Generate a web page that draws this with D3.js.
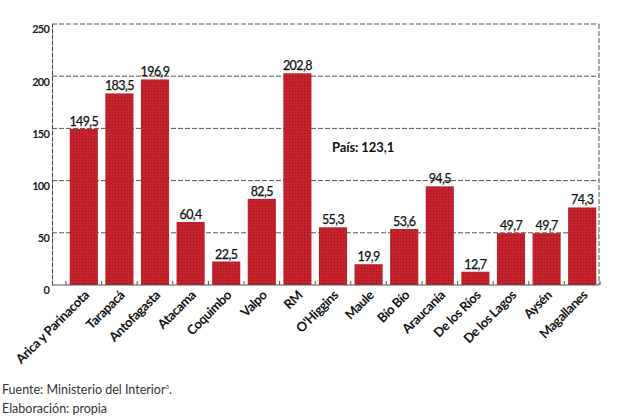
<!DOCTYPE html>
<html><head><meta charset="utf-8">
<script src="https://cdn.jsdelivr.net/npm/d3@7"></script>
<style>body{margin:0;background:#fff}svg{display:block}</style>
</head><body>
<script>
const regions = ["Arica y Parinacota","Tarapacá","Antofagasta","Atacama","Coquimbo","Valpo","RM","O'Higgins","Maule","Bío Bío","Araucanía","De los Ríos","De los Lagos","Aysén","Magallanes"];
const values = [149.5,183.5,196.9,60.4,22.5,82.5,202.8,55.3,19.9,53.6,94.5,12.7,49.7,49.7,74.3];
const yTicks = [0,50,100,150,200,250];
const countryLabel = "País: 123,1";
const footer = ["Fuente: Ministerio del Interior", "Elaboración: propia"];

const W=620,H=419;
const svg=d3.select("body").append("svg").attr("width",W).attr("height",H);
const defs=svg.append("defs");
const pat=defs.append("pattern").attr("id","dots").attr("width",3).attr("height",3).attr("patternUnits","userSpaceOnUse");
pat.append("rect").attr("width",3).attr("height",3).attr("fill","#c4232e");
pat.append("rect").attr("x",1).attr("y",1).attr("width",1).attr("height",1).attr("fill","#95141e");

const x=d3.scaleBand().domain(regions).range([66,600]).paddingInner(0.21).paddingOuter(0.105);
const y=d3.scaleLinear().domain([0,250]).range([285,24]);
const xLeft=52,xRight=599;

// gridlines
svg.append("g").selectAll("line").data(yTicks.filter(d=>d>0)).join("line")
  .attr("x1",xLeft).attr("x2",xRight).attr("y1",d=>y(d)).attr("y2",d=>y(d))
  .attr("stroke","#555").attr("stroke-width",1).attr("stroke-dasharray","5,2");
svg.append("line").attr("x1",xRight).attr("x2",xRight).attr("y1",y(250)).attr("y2",y(0))
  .attr("stroke","#555").attr("stroke-dasharray","5,2");

// bars
svg.append("g").selectAll("rect").data(values).join("rect")
  .attr("x",(d,i)=>x(regions[i])).attr("width",x.bandwidth())
  .attr("y",d=>y(d)).attr("height",d=>y(0)-y(d)).attr("fill","url(#dots)");

// value labels
svg.append("g").selectAll("text").data(values).join("text")
  .attr("x",(d,i)=>x(regions[i])+x.bandwidth()/2).attr("y",d=>y(d)-3)
  .attr("text-anchor","middle").attr("font-family","Lato").attr("font-size",12.5)
  .attr("letter-spacing",-0.6).attr("fill","#111").attr("stroke","#111").attr("stroke-width",0.25)
  .text(d=>d.toFixed(1).replace(".",","));

// y axis
const ya=svg.append("g").attr("transform",`translate(${xLeft},0)`)
  .call(d3.axisLeft(y).tickValues(yTicks).tickSize(0).tickPadding(3).tickFormat(d3.format("d")));
ya.select(".domain").attr("stroke","#444").attr("stroke-dasharray","5,1");
ya.selectAll("text").attr("font-family","Lato").attr("font-weight","bold").attr("font-size",11)
  .attr("letter-spacing",-0.8).attr("fill","#222").attr("dy","0.8em");

// x axis
svg.append("line").attr("x1",xLeft).attr("x2",xRight).attr("y1",y(0)).attr("y2",y(0)).attr("stroke","#555");
const bounds=regions.map(r=>x(r)-x.step()*x.paddingInner()/2);
bounds.push(x(regions[regions.length-1])+x.bandwidth()+x.step()*x.paddingInner()/2);
svg.append("g").selectAll("line").data(bounds).join("line")
  .attr("x1",d=>d).attr("x2",d=>d).attr("y1",y(0)).attr("y2",y(0)-4).attr("stroke","#555");

svg.append("g").selectAll("text").data(regions).join("text")
  .attr("transform",d=>`translate(${x(d)+x.bandwidth()/2+6},${y(0)+11}) rotate(-45)`)
  .attr("text-anchor","end").attr("font-family","Lato").attr("font-weight","bold")
  .attr("font-size",13).attr("letter-spacing",-0.4).attr("fill","#111").text(d=>d);

// country label
svg.append("text").attr("x",332).attr("y",152).attr("font-family","Lato").attr("font-weight","bold")
  .attr("font-size",13).attr("letter-spacing",-0.1).attr("fill","#111").text(countryLabel);

// footer
const f1=svg.append("text").attr("x",2).attr("y",394).attr("font-family","Lato")
  .attr("font-size",12.5).attr("fill","#333");
f1.append("tspan").text(footer[0]);
f1.append("tspan").attr("font-size",6).attr("dy",-5).text("3");
f1.append("tspan").attr("dy",5).text(".");
svg.append("text").attr("x",2).attr("y",413).attr("font-family","Lato")
  .attr("font-size",12.5).attr("fill","#333").text(footer[1]);
</script>
</body></html>
